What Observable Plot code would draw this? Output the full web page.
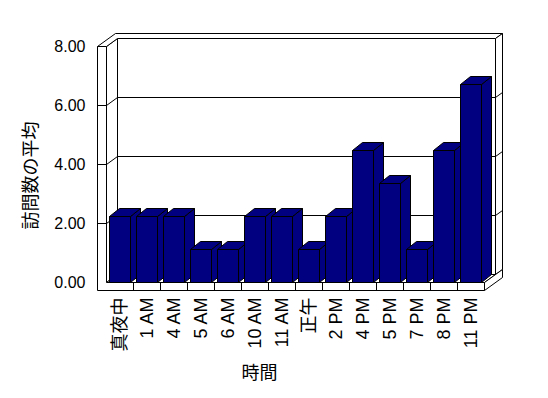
<!DOCTYPE html>
<html>
<head>
<meta charset="utf-8">
<script src="https://cdn.jsdelivr.net/npm/d3@7"></script>
<script src="https://cdn.jsdelivr.net/npm/@observablehq/plot@0.6"></script>
<style>
  html, body { margin: 0; padding: 0; background: #fff; }
</style>
</head>
<body>
<div id="chart"></div>
<script>
const categories = ["真夜中", "1 AM", "4 AM", "5 AM", "6 AM", "10 AM", "11 AM", "正午", "2 PM", "4 PM", "5 PM", "7 PM", "8 PM", "11 PM"];
const values = [2.24, 2.24, 2.24, 1.12, 1.12, 2.24, 2.24, 1.12, 2.24, 4.47, 3.35, 1.12, 4.47, 6.7];
const yTicks = [0, 2, 4, 6, 8];
const yTitle = "訪問数の平均";
const xTitle = "時間";

const data = categories.map((c, i) => ({cat: c, value: values[i]}));

// 3D look
const DX = 11, DY = -8;   // depth of plot box
const TX = 7, TY = -5;    // back wall thickness
const SW = 9, FT = 8;     // side wall / floor thickness
const BDX = 10, BDY = -8; // bar depth
const FONT = "'Liberation Sans', 'Noto Sans CJK JP', sans-serif";

const p = v => Math.round(v) + 0.5;
const poly = pts => "M" + pts.map(([x, y]) => `${p(x)},${p(y)}`).join("L") + "Z";
const seg = (a, b) => `M${p(a[0])},${p(a[1])}L${p(b[0])},${p(b[1])}`;

function bandInfo(scales) {
  const x = scales.x;
  const L = x(categories[0]);
  const bw = x.bandwidth ? x.bandwidth() : (x(categories[1]) - L);
  return {L, bw, R: L + bw * categories.length};
}

function drawBox(index, scales, vals, dims) {
  const {L, bw, R} = bandInfo(scales);
  const y = scales.y;
  const B = y(0), T = y(yTicks[yTicks.length - 1]);
  const g = d3.create("svg:g")
    .attr("fill", "white").attr("stroke", "black").attr("stroke-width", 1);
  const face = pts => g.append("path").attr("d", poly(pts));
  const line = d => g.append("path").attr("d", d).attr("fill", "none");

  // back wall inner face, side wall inner face, floor top
  face([[L + DX, T + DY], [R + DX, T + DY], [R + DX, B + DY], [L + DX, B + DY]]);
  face([[L, T], [L + DX, T + DY], [L + DX, B + DY], [L, B]]);
  face([[L, B], [R, B], [R + DX, B + DY], [L + DX, B + DY]]);
  // top of side wall + back wall
  face([[L - SW, T], [L, T], [L + DX, T + DY], [R + DX, T + DY], [R + DX + TX, T + DY + TY], [L - SW + DX + TX, T + DY + TY]]);
  // right face of back wall
  face([[R + DX, T + DY], [R + DX + TX, T + DY + TY], [R + DX + TX, B + DY + TY], [R + DX, B + DY]]);
  // right face of floor
  face([[R, B], [R + DX + TX, B + DY + TY], [R + DX + TX, B + FT + DY + TY], [R, B + FT]]);
  // front of side wall + floor
  face([[L - SW, T], [L, T], [L, B], [R, B], [R, B + FT], [L - SW, B + FT]]);

  // gridlines
  for (const v of yTicks.slice(1, -1)) {
    const yy = y(v);
    line(seg([L - SW, yy], [L, yy]));
    line(seg([L, yy], [L + DX, yy + DY]));
    line(seg([L + DX, yy + DY], [R + DX, yy + DY]));
    line(seg([R + DX, yy + DY], [R + DX + TX, yy + DY + TY]));
  }
  // category divisions on floor front
  for (let i = 1; i < categories.length; i++) {
    const xx = L + i * bw;
    line(seg([xx, B], [xx, B + FT]));
  }
  return g.node();
}

function drawBars(index, scales, vals, dims) {
  const {bw} = bandInfo(scales);
  const g = d3.create("svg:g")
    .attr("fill", "#000080").attr("stroke", "black").attr("stroke-width", 1)
    .attr("stroke-linejoin", "miter");
  for (const i of index) {
    const x0 = vals.x[i] + 3;
    const x1 = vals.x[i] + bw - 2.6;
    const yb = vals.y1[i], yt = vals.y2[i];
    const top = Math.min(yb, yt), bot = Math.max(yb, yt);
    // side
    g.append("path").attr("d", poly([[x1, top], [x1 + BDX, top + BDY], [x1 + BDX, bot + BDY], [x1, bot]]));
    // top
    g.append("path").attr("d", poly([[x0, top], [x1, top], [x1 + BDX, top + BDY], [x0 + BDX, top + BDY]]));
    // front
    g.append("path").attr("d", poly([[x0, top], [x1, top], [x1, bot], [x0, bot]]));
  }
  return g.node();
}

const chart = Plot.plot({
  width: 548,
  height: 398,
  marginLeft: 106,
  marginRight: 64,
  marginTop: 46,
  marginBottom: 116,
  style: {background: "white", fontFamily: FONT, fontSize: "16px", color: "black"},
  x: {type: "band", domain: categories, padding: 0, round: true},
  y: {domain: [0, 8]},
  marks: [
    Plot.frame({stroke: "none", render: drawBox}),
    Plot.barY(data, {x: "cat", y: "value", render: drawBars}),
    Plot.axisY({ticks: yTicks, tickSize: 0, tickPadding: 21, tickFormat: d => d.toFixed(2), label: null, fontSize: 16}),
    Plot.axisX({tickSize: 0, tickPadding: 15, tickRotate: -90, label: null, fontSize: 18}),
    Plot.text([yTitle], {text: d => d, frameAnchor: "left", textAnchor: "middle", lineAnchor: "middle", rotate: -90, dx: -75, dy: 11, fontSize: 18, fill: "black"}),
    Plot.text([xTitle], {text: d => d, frameAnchor: "bottom", textAnchor: "middle", lineAnchor: "middle", dx: -36, dy: 91, fontSize: 18, fill: "black"})
  ]
});
document.getElementById("chart").appendChild(chart);
</script>
</body>
</html>
